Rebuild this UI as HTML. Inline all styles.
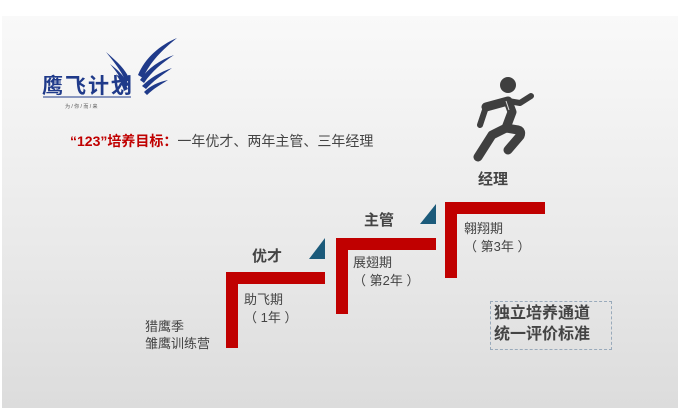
<!DOCTYPE html>
<html><head><meta charset="utf-8"><style>
html,body{margin:0;padding:0;width:680px;height:408px;overflow:hidden;background:#fff;font-family:"Liberation Sans","Noto Sans CJK SC",sans-serif;}
.panel{position:absolute;left:2px;top:16px;width:676px;height:392px;background:linear-gradient(#f9f9f9,#e9e9e9 60%,#dcdcdc);}
.t{position:absolute;white-space:nowrap;color:#444;}
.r{position:absolute;background:#c00000;}
</style></head><body>
<div class="panel"></div>
<svg style="position:absolute;left:0;top:0" width="680" height="408">
 <g fill="#1f3a8a">
  <path d="M177,38 C160,45 145,58 138,75 L143,78 C150,62 162,50 177,38Z"/>
  <path d="M174,55 C160,60 148,68 140,80 L144,83 C152,71 162,63 174,55Z"/>
  <path d="M172,68 C160,72 150,78 142,86 L146,89 C153,81 162,75 172,68Z"/>
  <path d="M168,80 C158,82 150,86 144,92 L147,95 C153,89 160,85 168,80Z"/>
  <path d="M106,52 C115,60 125,68 130,80 L126,82 C121,70 113,61 106,52Z"/>
  <path d="M110,64 C118,70 124,76 129,85 L125,87 C121,78 116,71 110,64Z"/>
  <path d="M116,74 C121,78 125,83 128,89 L124,91 C122,84 119,79 116,74Z"/>
 </g>
 <text x="42" y="93" font-size="21" font-weight="bold" fill="#1f3a8a" textLength="90" font-family="Liberation Sans,Noto Sans CJK SC,sans-serif">鹰飞计划</text>
 <line x1="43" y1="97" x2="131" y2="97" stroke="#1f3a8a" stroke-width="1"/>
 <text x="65" y="108" font-size="5" fill="#555" font-family="Liberation Sans,Noto Sans CJK SC,sans-serif">为 / 你 / 而 / 来</text>
 <polygon points="325,238 325,259 309,259" fill="#1b5a7a"/>
 <polygon points="436,204 436,224 420,224" fill="#1b5a7a"/>
 <g fill="#3f3f3f" stroke="#3f3f3f" stroke-linecap="round" stroke-linejoin="round">
  <circle cx="508" cy="85" r="8" stroke="none"/>
  <path d="M486,107 L508,101 L512,112 L506,128 L518,130 Q522,131 520,136 L508,150" fill="none" stroke-width="9"/>
  <path d="M508,101 L520,103 L531,96" fill="none" stroke-width="6"/>
  <path d="M486,107 L480,125" fill="none" stroke-width="6"/>
  <path d="M506,128 L492,135 L478,157" fill="none" stroke-width="9"/>
 </g>
 <line x1="506" y1="101" x2="509" y2="110" stroke="#ddd" stroke-width="1"/>
</svg>
<div class="t" style="left:70px;top:131px;font-size:14px;"><span style="color:#c00000;font-weight:bold">“123”培养目标：</span>一年优才、两年主管、三年经理</div>
<div class="r" style="left:226px;top:272px;width:12px;height:76px"></div>
<div class="r" style="left:226px;top:272px;width:99px;height:12px"></div>
<div class="r" style="left:336px;top:238px;width:12px;height:76px"></div>
<div class="r" style="left:336px;top:238px;width:100px;height:12px"></div>
<div class="r" style="left:445px;top:202px;width:12px;height:76px"></div>
<div class="r" style="left:445px;top:202px;width:100px;height:12px"></div>
<div class="t" style="left:252px;top:245px;font-size:15px;font-weight:bold;">优才</div>
<div class="t" style="left:364px;top:209px;font-size:15px;font-weight:bold;">主管</div>
<div class="t" style="left:478px;top:168px;font-size:15px;font-weight:bold;">经理</div>
<div class="t" style="left:145px;top:318px;font-size:13px;line-height:17px;">猎鹰季<br>雏鹰训练营</div>
<div class="t" style="left:244px;top:291px;font-size:13px;line-height:18px;">助飞期<br>（ 1年 ）</div>
<div class="t" style="left:353px;top:254px;font-size:13px;line-height:18px;">展翅期<br>（ 第2年 ）</div>
<div class="t" style="left:464px;top:220px;font-size:13px;line-height:18px;">翱翔期<br>（ 第3年 ）</div>
<div style="position:absolute;left:490px;top:301px;width:122px;height:49px;border:1px dashed #9ab;box-sizing:border-box;"></div>
<div class="t" style="left:494px;top:303px;font-size:16px;font-weight:bold;line-height:21px;color:#444;">独立培养通道<br>统一评价标准</div>
</body></html>
